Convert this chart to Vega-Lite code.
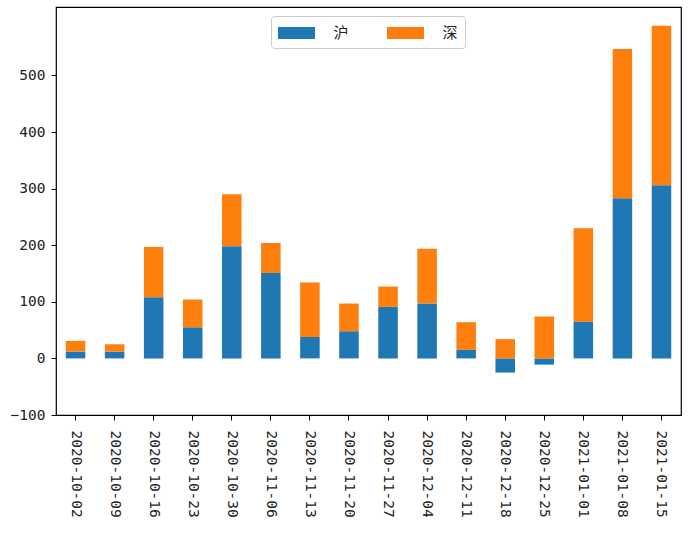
{
  "$schema": "https://vega.github.io/schema/vega-lite/v6.json",
  "autosize": {"type": "none"},
  "width": 625,
  "height": 408,
  "padding": {"left": 56, "top": 7, "right": 9, "bottom": 119},
  "background": "white",
  "config": {
    "view": {"stroke": "black", "strokeWidth": 1.2},
    "axis": {"grid": false, "domain": false, "tickColor": "black", "tickWidth": 1, "tickSize": 5, "labelColor": "#222", "labelFont": "DejaVu Sans Mono", "labelFontSize": 14.5, "title": null}
  },
  "data": {
    "values": [
      {"date": "2020-10-02", "series": "沪", "value": 12}, {"date": "2020-10-02", "series": "深", "value": 19},
      {"date": "2020-10-09", "series": "沪", "value": 12}, {"date": "2020-10-09", "series": "深", "value": 13},
      {"date": "2020-10-16", "series": "沪", "value": 108}, {"date": "2020-10-16", "series": "深", "value": 89},
      {"date": "2020-10-23", "series": "沪", "value": 55}, {"date": "2020-10-23", "series": "深", "value": 49},
      {"date": "2020-10-30", "series": "沪", "value": 198}, {"date": "2020-10-30", "series": "深", "value": 92},
      {"date": "2020-11-06", "series": "沪", "value": 151}, {"date": "2020-11-06", "series": "深", "value": 53},
      {"date": "2020-11-13", "series": "沪", "value": 38}, {"date": "2020-11-13", "series": "深", "value": 96},
      {"date": "2020-11-20", "series": "沪", "value": 48}, {"date": "2020-11-20", "series": "深", "value": 49},
      {"date": "2020-11-27", "series": "沪", "value": 91}, {"date": "2020-11-27", "series": "深", "value": 36},
      {"date": "2020-12-04", "series": "沪", "value": 97}, {"date": "2020-12-04", "series": "深", "value": 97},
      {"date": "2020-12-11", "series": "沪", "value": 15}, {"date": "2020-12-11", "series": "深", "value": 49},
      {"date": "2020-12-18", "series": "沪", "value": -25}, {"date": "2020-12-18", "series": "深", "value": 34},
      {"date": "2020-12-25", "series": "沪", "value": -11}, {"date": "2020-12-25", "series": "深", "value": 74},
      {"date": "2021-01-01", "series": "沪", "value": 65}, {"date": "2021-01-01", "series": "深", "value": 165},
      {"date": "2021-01-08", "series": "沪", "value": 283}, {"date": "2021-01-08", "series": "深", "value": 264},
      {"date": "2021-01-15", "series": "沪", "value": 306}, {"date": "2021-01-15", "series": "深", "value": 282}
    ]
  },
  "mark": {"type": "bar"},
  "encoding": {
    "x": {
      "field": "date", "type": "nominal", "sort": null,
      "scale": {"paddingInner": 0.5, "paddingOuter": 0.25},
      "axis": {"labelAngle": 90, "labelAlign": "left", "labelBaseline": "middle", "labelPadding": 10, "bandPosition": 0.5, "domain": true, "domainColor": "black"}
    },
    "y": {
      "field": "value", "type": "quantitative", "stack": "zero",
      "scale": {"domain": [-100, 621], "nice": false, "zero": false},
      "axis": {"values": [-100, 0, 100, 200, 300, 400, 500], "labelPadding": 6}
    },
    "color": {
      "field": "series", "type": "nominal",
      "scale": {"domain": ["沪", "深"], "range": ["#1f77b4", "#ff7f0e"]},
      "legend": {
        "orient": "none", "legendX": 215, "legendY": 9, "direction": "horizontal", "columns": 2, "title": null,
        "symbolType": "M-1.85,-0.6H1.85V0.6H-1.85Z", "symbolSize": 400, "symbolStrokeWidth": 0, "symbolOffset": 8.5,
        "labelOffset": 27, "columnPadding": 38, "padding": 7, "strokeColor": "#cccccc", "cornerRadius": 3, "fillColor": "white",
        "labelFont": "Noto Sans CJK SC", "labelFontSize": 15, "labelColor": "#222"
      }
    },
    "order": {"field": "series", "sort": "ascending"}
  }
}
